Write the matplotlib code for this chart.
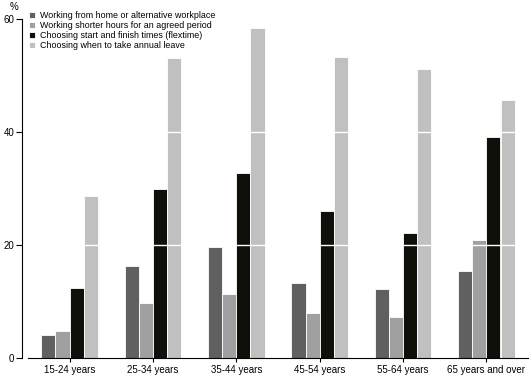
import numpy as np
import matplotlib.pyplot as plt

plt.rcParams['font.family'] = ['Liberation Sans', 'DejaVu Sans']

ages = ['15-24 years', '25-34 years', '35-44 years', '45-54 years', '55-64 years', '65 years and over']
home = [4.1, 16.2, 19.6, 13.3, 12.2, 15.4]
shorter = [4.8, 9.7, 11.3, 8.0, 7.3, 20.8]
flexi = [12.4, 29.9, 32.7, 26.0, 22.1, 39.1]
leave = [28.7, 53.1, 58.4, 53.3, 51.1, 45.7]

names = ['Working from home or alternative workplace',
         'Working shorter hours for an agreed period',
         'Choosing start and finish times (flextime)',
         'Choosing when to take annual leave']
colors = ['#606060', '#a0a0a0', '#10100a', '#c0c0c0']

fig = plt.figure(figsize=(5.29, 3.78), dpi=100)
ax = fig.add_axes([28/529, 1 - 358/378, 500/529, 339/378])

x = np.arange(len(ages))
width = 0.17
series = [home, shorter, flexi, leave]
for i, (vals, c, n) in enumerate(zip(series, colors, names)):
    ax.bar(x + (i - 1.5) * width, vals, width, color=c, edgecolor='white',
           linewidth=0.6, label=n, zorder=2)

# white gridlines across the bars
for yv in [20, 40]:
    ax.axhline(yv, color='white', linewidth=1.0, zorder=3)

ax.set_xlim(-0.5, len(ages) - 0.5)
ax.set_ylim(0, 60)
ax.set_yticks([0, 20, 40, 60])
ax.set_xticks(x)
ax.set_xticklabels(ages, fontsize=7)
ax.tick_params(axis='y', labelsize=7, length=4, width=0.8, pad=2)
ax.tick_params(axis='x', length=3, width=0.8, pad=2)
ax.spines['top'].set_visible(False)
ax.spines['right'].set_visible(False)
ax.spines['left'].set_position(('outward', 4))
ax.spines['left'].set_bounds(0, 60)

fig.text(10/529, 1 - 7/378, '%', fontsize=7, va='center')

leg = ax.legend(loc='upper left', bbox_to_anchor=(-0.005, 1.033), frameon=False,
                fontsize=6.4, handlelength=0.7, handleheight=0.7,
                handletextpad=0.5, labelspacing=0.1, borderaxespad=0)

fig.savefig('out.png', dpi=100)
